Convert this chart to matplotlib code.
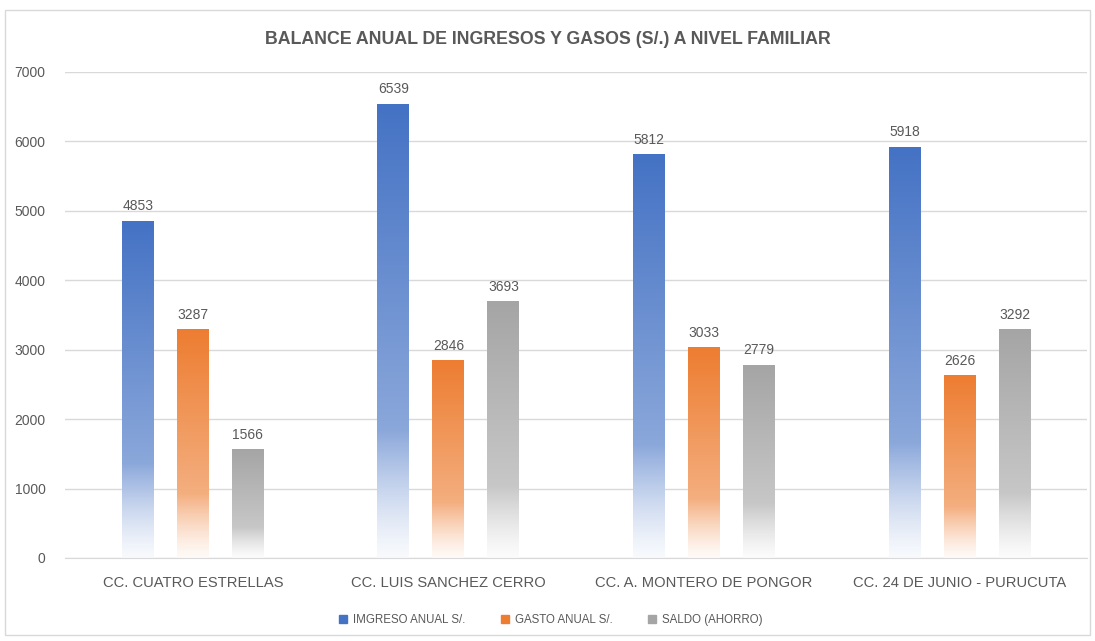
import numpy as np
import matplotlib
matplotlib.use('Agg')
import matplotlib.pyplot as plt
from matplotlib.colors import to_rgb
from matplotlib.patches import Rectangle

plt.rcParams['font.family'] = ['Liberation Sans Narrow', 'Liberation Sans', 'DejaVu Sans']

# data
categories = ['CC. CUATRO ESTRELLAS', 'CC. LUIS SANCHEZ CERRO',
              'CC. A. MONTERO DE PONGOR', 'CC. 24 DE JUNIO - PURUCUTA']
series_names = ['IMGRESO ANUAL S/.', 'GASTO ANUAL S/.', 'SALDO (AHORRO)']
ingreso = [4853, 6539, 5812, 5918]
gasto = [3287, 2846, 3033, 2626]
saldo = [1566, 3693, 2779, 3292]

COLORS = ['#4472C4', '#ED7D31', '#A5A5A5']
TXT = '#595959'


def gradient_img(color, n=256):
    # top = full colour, lower quarter fades to white
    c = np.array(to_rgb(color))
    t = np.linspace(0, 1, n)  # 0 bottom, 1 top
    w = np.where(t > 0.28, 0.62 + 0.38 * (t - 0.28) / 0.72,
                 0.04 + 0.58 * (t / 0.28) ** 1.3)
    img = w[:, None] * c[None, :] + (1 - w[:, None]) * 1.0
    return img[:, None, :]


fig = plt.figure(figsize=(10.95, 6.41), dpi=100)
fig.patches.append(Rectangle((0.005, 0.01), 0.99, 0.975, transform=fig.transFigure,
                             fill=False, edgecolor='#D9D9D9', linewidth=1))
ax = fig.add_axes([0.0594, 0.1295, 0.9336, 0.7582])

x = np.arange(len(categories))
width = 0.125
offset = 0.215
for i, (vals, col, name) in enumerate(zip([ingreso, gasto, saldo], COLORS, series_names)):
    bars = ax.bar(x + (i - 1) * offset, vals, width, color='none', edgecolor='none',
                  label=name, zorder=2)
    img = gradient_img(col)
    for b in bars:
        ax.imshow(img, extent=[b.get_x(), b.get_x() + b.get_width(), 0, b.get_height()],
                  origin='lower', aspect='auto', zorder=2, interpolation='bilinear')
        ax.text(b.get_x() + b.get_width() / 2, b.get_height() + 110, f'{int(b.get_height())}',
                ha='center', va='bottom', fontsize=10, color=TXT)

ax.set_xlim(-0.5, len(categories) - 0.5)
ax.set_ylim(0, 7000)
ax.set_yticks(range(0, 7001, 1000))
ax.yaxis.grid(True, color='#D9D9D9', linewidth=1)
ax.set_axisbelow(True)
for s in ['top', 'right', 'left']:
    ax.spines[s].set_visible(False)
ax.spines['bottom'].set_color('#D9D9D9')
ax.tick_params(axis='y', length=0, labelsize=10, labelcolor=TXT, pad=14)
ax.tick_params(axis='x', length=0, labelsize=10.6, labelcolor=TXT, pad=13)
ax.set_xticks(x)
ax.set_xticklabels(categories)

fig.text(0.5, 0.938, 'BALANCE ANUAL DE INGRESOS Y GASOS (S/.) A NIVEL FAMILIAR',
         ha='center', va='center', fontsize=12.8, color=TXT, fontweight='bold')

handles = [Rectangle((0, 0), 1, 1, color=c) for c in COLORS]
fig.legend(handles, series_names, loc='center', bbox_to_anchor=(0.503, 0.033), ncol=3,
           frameon=False, fontsize=8.3, handlelength=0.7, handleheight=0.7,
           columnspacing=3.1, handletextpad=0.5, labelcolor=TXT)

fig.savefig('out.png', dpi=100)
